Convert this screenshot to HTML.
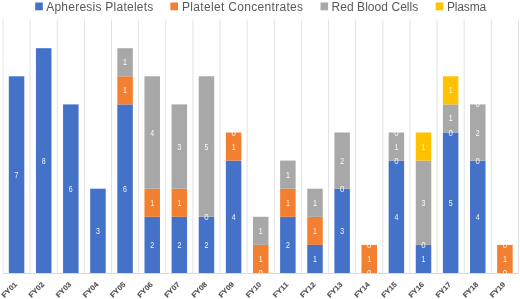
<!DOCTYPE html><html><head><meta charset="utf-8"><style>
html,body{margin:0;padding:0;background:#fff;}body{width:520px;height:299px;overflow:hidden;position:relative;}
svg{position:absolute;left:0;top:0;will-change:transform;}
.lg{font-family:"Liberation Sans",sans-serif;font-size:12px;fill:#595959;}
.dl{font-family:"Liberation Sans",sans-serif;font-size:8.3px;fill:#fff;fill-opacity:0.92;}
.ax{font-family:"Liberation Sans",sans-serif;font-size:7.2px;font-weight:bold;fill:#505050;stroke:#505050;stroke-width:0.12px;}
</style></head><body>
<svg width="520" height="299" viewBox="0 0 520 299">
<line x1="3.00" y1="19.50" x2="3.00" y2="273.00" stroke="#E3E3E3" stroke-width="1"/>
<line x1="30.13" y1="19.50" x2="30.13" y2="273.00" stroke="#E3E3E3" stroke-width="1"/>
<line x1="57.26" y1="19.50" x2="57.26" y2="273.00" stroke="#E3E3E3" stroke-width="1"/>
<line x1="84.39" y1="19.50" x2="84.39" y2="273.00" stroke="#E3E3E3" stroke-width="1"/>
<line x1="111.52" y1="19.50" x2="111.52" y2="273.00" stroke="#E3E3E3" stroke-width="1"/>
<line x1="138.65" y1="19.50" x2="138.65" y2="273.00" stroke="#E3E3E3" stroke-width="1"/>
<line x1="165.78" y1="19.50" x2="165.78" y2="273.00" stroke="#E3E3E3" stroke-width="1"/>
<line x1="192.91" y1="19.50" x2="192.91" y2="273.00" stroke="#E3E3E3" stroke-width="1"/>
<line x1="220.04" y1="19.50" x2="220.04" y2="273.00" stroke="#E3E3E3" stroke-width="1"/>
<line x1="247.17" y1="19.50" x2="247.17" y2="273.00" stroke="#E3E3E3" stroke-width="1"/>
<line x1="274.30" y1="19.50" x2="274.30" y2="273.00" stroke="#E3E3E3" stroke-width="1"/>
<line x1="301.43" y1="19.50" x2="301.43" y2="273.00" stroke="#E3E3E3" stroke-width="1"/>
<line x1="328.56" y1="19.50" x2="328.56" y2="273.00" stroke="#E3E3E3" stroke-width="1"/>
<line x1="355.69" y1="19.50" x2="355.69" y2="273.00" stroke="#E3E3E3" stroke-width="1"/>
<line x1="382.82" y1="19.50" x2="382.82" y2="273.00" stroke="#E3E3E3" stroke-width="1"/>
<line x1="409.95" y1="19.50" x2="409.95" y2="273.00" stroke="#E3E3E3" stroke-width="1"/>
<line x1="437.08" y1="19.50" x2="437.08" y2="273.00" stroke="#E3E3E3" stroke-width="1"/>
<line x1="464.21" y1="19.50" x2="464.21" y2="273.00" stroke="#E3E3E3" stroke-width="1"/>
<line x1="491.34" y1="19.50" x2="491.34" y2="273.00" stroke="#E3E3E3" stroke-width="1"/>
<line x1="518.47" y1="19.50" x2="518.47" y2="273.00" stroke="#E3E3E3" stroke-width="1"/>
<rect x="8.81" y="76.30" width="15.50" height="196.70" fill="#4472C8"/>
<rect x="35.95" y="48.20" width="15.50" height="224.80" fill="#4472C8"/>
<rect x="63.07" y="104.40" width="15.50" height="168.60" fill="#4472C8"/>
<rect x="90.20" y="188.70" width="15.50" height="84.30" fill="#4472C8"/>
<rect x="117.33" y="104.40" width="15.50" height="168.60" fill="#4472C8"/>
<rect x="117.33" y="76.30" width="15.50" height="28.10" fill="#F37F30"/>
<rect x="117.33" y="48.20" width="15.50" height="28.10" fill="#A8A8A8"/>
<rect x="144.47" y="216.80" width="15.50" height="56.20" fill="#4472C8"/>
<rect x="144.47" y="188.70" width="15.50" height="28.10" fill="#F37F30"/>
<rect x="144.47" y="76.30" width="15.50" height="112.40" fill="#A8A8A8"/>
<rect x="171.59" y="216.80" width="15.50" height="56.20" fill="#4472C8"/>
<rect x="171.59" y="188.70" width="15.50" height="28.10" fill="#F37F30"/>
<rect x="171.59" y="104.40" width="15.50" height="84.30" fill="#A8A8A8"/>
<rect x="198.72" y="216.80" width="15.50" height="56.20" fill="#4472C8"/>
<rect x="198.72" y="76.30" width="15.50" height="140.50" fill="#A8A8A8"/>
<rect x="225.85" y="160.60" width="15.50" height="112.40" fill="#4472C8"/>
<rect x="225.85" y="132.50" width="15.50" height="28.10" fill="#F37F30"/>
<rect x="252.98" y="244.90" width="15.50" height="28.10" fill="#F37F30"/>
<rect x="252.98" y="216.80" width="15.50" height="28.10" fill="#A8A8A8"/>
<rect x="280.12" y="216.80" width="15.50" height="56.20" fill="#4472C8"/>
<rect x="280.12" y="188.70" width="15.50" height="28.10" fill="#F37F30"/>
<rect x="280.12" y="160.60" width="15.50" height="28.10" fill="#A8A8A8"/>
<rect x="307.25" y="244.90" width="15.50" height="28.10" fill="#4472C8"/>
<rect x="307.25" y="216.80" width="15.50" height="28.10" fill="#F37F30"/>
<rect x="307.25" y="188.70" width="15.50" height="28.10" fill="#A8A8A8"/>
<rect x="334.38" y="188.70" width="15.50" height="84.30" fill="#4472C8"/>
<rect x="334.38" y="132.50" width="15.50" height="56.20" fill="#A8A8A8"/>
<rect x="361.50" y="244.90" width="15.50" height="28.10" fill="#F37F30"/>
<rect x="388.63" y="160.60" width="15.50" height="112.40" fill="#4472C8"/>
<rect x="388.63" y="132.50" width="15.50" height="28.10" fill="#A8A8A8"/>
<rect x="415.76" y="244.90" width="15.50" height="28.10" fill="#4472C8"/>
<rect x="415.76" y="160.60" width="15.50" height="84.30" fill="#A8A8A8"/>
<rect x="415.76" y="132.50" width="15.50" height="28.10" fill="#FFC200"/>
<rect x="442.89" y="132.50" width="15.50" height="140.50" fill="#4472C8"/>
<rect x="442.89" y="104.40" width="15.50" height="28.10" fill="#A8A8A8"/>
<rect x="442.89" y="76.30" width="15.50" height="28.10" fill="#FFC200"/>
<rect x="470.02" y="160.60" width="15.50" height="112.40" fill="#4472C8"/>
<rect x="470.02" y="104.40" width="15.50" height="56.20" fill="#A8A8A8"/>
<rect x="497.15" y="244.90" width="15.50" height="28.10" fill="#F37F30"/>
<line x1="3.00" y1="273.50" x2="518.47" y2="273.50" stroke="#D9D9D9" stroke-width="1"/>
<text class="dl" transform="translate(16.56,177.65) scale(0.85,1)" text-anchor="middle">7</text>
<text class="dl" transform="translate(43.70,163.60) scale(0.85,1)" text-anchor="middle">8</text>
<text class="dl" transform="translate(70.82,191.70) scale(0.85,1)" text-anchor="middle">6</text>
<text class="dl" transform="translate(97.95,233.85) scale(0.85,1)" text-anchor="middle">3</text>
<text class="dl" transform="translate(125.08,191.70) scale(0.85,1)" text-anchor="middle">6</text>
<text class="dl" transform="translate(125.08,93.35) scale(0.85,1)" text-anchor="middle">1</text>
<text class="dl" transform="translate(125.08,65.25) scale(0.85,1)" text-anchor="middle">1</text>
<text class="dl" transform="translate(152.22,247.90) scale(0.85,1)" text-anchor="middle">2</text>
<text class="dl" transform="translate(152.22,205.75) scale(0.85,1)" text-anchor="middle">1</text>
<text class="dl" transform="translate(152.22,135.50) scale(0.85,1)" text-anchor="middle">4</text>
<text class="dl" transform="translate(179.34,247.90) scale(0.85,1)" text-anchor="middle">2</text>
<text class="dl" transform="translate(179.34,205.75) scale(0.85,1)" text-anchor="middle">1</text>
<text class="dl" transform="translate(179.34,149.55) scale(0.85,1)" text-anchor="middle">3</text>
<text class="dl" transform="translate(206.47,247.90) scale(0.85,1)" text-anchor="middle">2</text>
<text class="dl" transform="translate(206.47,219.80) scale(0.95,1)" text-anchor="middle">0</text>
<text class="dl" transform="translate(206.47,149.55) scale(0.85,1)" text-anchor="middle">5</text>
<text class="dl" transform="translate(233.60,219.80) scale(0.85,1)" text-anchor="middle">4</text>
<text class="dl" transform="translate(233.60,149.55) scale(0.85,1)" text-anchor="middle">1</text>
<text class="dl" transform="translate(233.60,135.50) scale(0.95,1)" text-anchor="middle">0</text>
<text class="dl" transform="translate(260.74,276.00) scale(0.95,1)" text-anchor="middle">0</text>
<text class="dl" transform="translate(260.74,261.95) scale(0.85,1)" text-anchor="middle">1</text>
<text class="dl" transform="translate(260.74,233.85) scale(0.85,1)" text-anchor="middle">1</text>
<text class="dl" transform="translate(287.87,247.90) scale(0.85,1)" text-anchor="middle">2</text>
<text class="dl" transform="translate(287.87,205.75) scale(0.85,1)" text-anchor="middle">1</text>
<text class="dl" transform="translate(287.87,177.65) scale(0.85,1)" text-anchor="middle">1</text>
<text class="dl" transform="translate(315.00,261.95) scale(0.85,1)" text-anchor="middle">1</text>
<text class="dl" transform="translate(315.00,233.85) scale(0.85,1)" text-anchor="middle">1</text>
<text class="dl" transform="translate(315.00,205.75) scale(0.85,1)" text-anchor="middle">1</text>
<text class="dl" transform="translate(342.12,233.85) scale(0.85,1)" text-anchor="middle">3</text>
<text class="dl" transform="translate(342.12,191.70) scale(0.95,1)" text-anchor="middle">0</text>
<text class="dl" transform="translate(342.12,163.60) scale(0.85,1)" text-anchor="middle">2</text>
<text class="dl" transform="translate(369.25,276.00) scale(0.95,1)" text-anchor="middle">0</text>
<text class="dl" transform="translate(369.25,261.95) scale(0.85,1)" text-anchor="middle">1</text>
<text class="dl" transform="translate(369.25,247.90) scale(0.95,1)" text-anchor="middle">0</text>
<text class="dl" transform="translate(396.38,219.80) scale(0.85,1)" text-anchor="middle">4</text>
<text class="dl" transform="translate(396.38,163.60) scale(0.95,1)" text-anchor="middle">0</text>
<text class="dl" transform="translate(396.38,149.55) scale(0.85,1)" text-anchor="middle">1</text>
<text class="dl" transform="translate(396.38,135.50) scale(0.95,1)" text-anchor="middle">0</text>
<text class="dl" transform="translate(423.51,261.95) scale(0.85,1)" text-anchor="middle">1</text>
<text class="dl" transform="translate(423.51,247.90) scale(0.95,1)" text-anchor="middle">0</text>
<text class="dl" transform="translate(423.51,205.75) scale(0.85,1)" text-anchor="middle">3</text>
<text class="dl" transform="translate(423.51,149.55) scale(0.85,1)" text-anchor="middle">1</text>
<text class="dl" transform="translate(450.64,205.75) scale(0.85,1)" text-anchor="middle">5</text>
<text class="dl" transform="translate(450.64,135.50) scale(0.95,1)" text-anchor="middle">0</text>
<text class="dl" transform="translate(450.64,121.45) scale(0.85,1)" text-anchor="middle">1</text>
<text class="dl" transform="translate(450.64,93.35) scale(0.85,1)" text-anchor="middle">1</text>
<text class="dl" transform="translate(477.77,219.80) scale(0.85,1)" text-anchor="middle">4</text>
<text class="dl" transform="translate(477.77,163.60) scale(0.95,1)" text-anchor="middle">0</text>
<text class="dl" transform="translate(477.77,135.50) scale(0.85,1)" text-anchor="middle">2</text>
<text class="dl" transform="translate(477.77,107.40) scale(0.95,1)" text-anchor="middle">0</text>
<text class="dl" transform="translate(504.90,276.00) scale(0.95,1)" text-anchor="middle">0</text>
<text class="dl" transform="translate(504.90,261.95) scale(0.85,1)" text-anchor="middle">1</text>
<text class="dl" transform="translate(504.90,247.90) scale(0.95,1)" text-anchor="middle">0</text>
<text class="ax" text-anchor="end" transform="translate(17.56,285.00) rotate(-45)" textLength="18.5" lengthAdjust="spacingAndGlyphs">FY01</text>
<text class="ax" text-anchor="end" transform="translate(44.70,285.00) rotate(-45)" textLength="18.5" lengthAdjust="spacingAndGlyphs">FY02</text>
<text class="ax" text-anchor="end" transform="translate(71.83,285.00) rotate(-45)" textLength="18.5" lengthAdjust="spacingAndGlyphs">FY03</text>
<text class="ax" text-anchor="end" transform="translate(98.95,285.00) rotate(-45)" textLength="18.5" lengthAdjust="spacingAndGlyphs">FY04</text>
<text class="ax" text-anchor="end" transform="translate(126.08,285.00) rotate(-45)" textLength="18.5" lengthAdjust="spacingAndGlyphs">FY05</text>
<text class="ax" text-anchor="end" transform="translate(153.22,285.00) rotate(-45)" textLength="18.5" lengthAdjust="spacingAndGlyphs">FY06</text>
<text class="ax" text-anchor="end" transform="translate(180.34,285.00) rotate(-45)" textLength="18.5" lengthAdjust="spacingAndGlyphs">FY07</text>
<text class="ax" text-anchor="end" transform="translate(207.47,285.00) rotate(-45)" textLength="18.5" lengthAdjust="spacingAndGlyphs">FY08</text>
<text class="ax" text-anchor="end" transform="translate(234.60,285.00) rotate(-45)" textLength="18.5" lengthAdjust="spacingAndGlyphs">FY09</text>
<text class="ax" text-anchor="end" transform="translate(261.74,285.00) rotate(-45)" textLength="18.5" lengthAdjust="spacingAndGlyphs">FY10</text>
<text class="ax" text-anchor="end" transform="translate(288.87,285.00) rotate(-45)" textLength="18.5" lengthAdjust="spacingAndGlyphs">FY11</text>
<text class="ax" text-anchor="end" transform="translate(316.00,285.00) rotate(-45)" textLength="18.5" lengthAdjust="spacingAndGlyphs">FY12</text>
<text class="ax" text-anchor="end" transform="translate(343.12,285.00) rotate(-45)" textLength="18.5" lengthAdjust="spacingAndGlyphs">FY13</text>
<text class="ax" text-anchor="end" transform="translate(370.25,285.00) rotate(-45)" textLength="18.5" lengthAdjust="spacingAndGlyphs">FY14</text>
<text class="ax" text-anchor="end" transform="translate(397.38,285.00) rotate(-45)" textLength="18.5" lengthAdjust="spacingAndGlyphs">FY15</text>
<text class="ax" text-anchor="end" transform="translate(424.51,285.00) rotate(-45)" textLength="18.5" lengthAdjust="spacingAndGlyphs">FY16</text>
<text class="ax" text-anchor="end" transform="translate(451.64,285.00) rotate(-45)" textLength="18.5" lengthAdjust="spacingAndGlyphs">FY17</text>
<text class="ax" text-anchor="end" transform="translate(478.77,285.00) rotate(-45)" textLength="18.5" lengthAdjust="spacingAndGlyphs">FY18</text>
<text class="ax" text-anchor="end" transform="translate(505.90,285.00) rotate(-45)" textLength="18.5" lengthAdjust="spacingAndGlyphs">FY19</text>
<rect x="35.20" y="2.5" width="7.6" height="7.8" fill="#4472C8"/>
<text class="lg" x="46.20" y="10.75" textLength="107.10" lengthAdjust="spacing">Apheresis Platelets</text>
<rect x="170.40" y="2.5" width="7.6" height="7.8" fill="#F37F30"/>
<text class="lg" x="182.00" y="10.75" textLength="121.10" lengthAdjust="spacing">Platelet Concentrates</text>
<rect x="320.50" y="2.5" width="7.6" height="7.8" fill="#A8A8A8"/>
<text class="lg" x="331.50" y="10.75" textLength="86.80" lengthAdjust="spacing">Red Blood Cells</text>
<rect x="435.70" y="2.5" width="7.6" height="7.8" fill="#FFC200"/>
<text class="lg" x="446.90" y="10.75" textLength="39.30" lengthAdjust="spacing">Plasma</text>
</svg></body></html>
